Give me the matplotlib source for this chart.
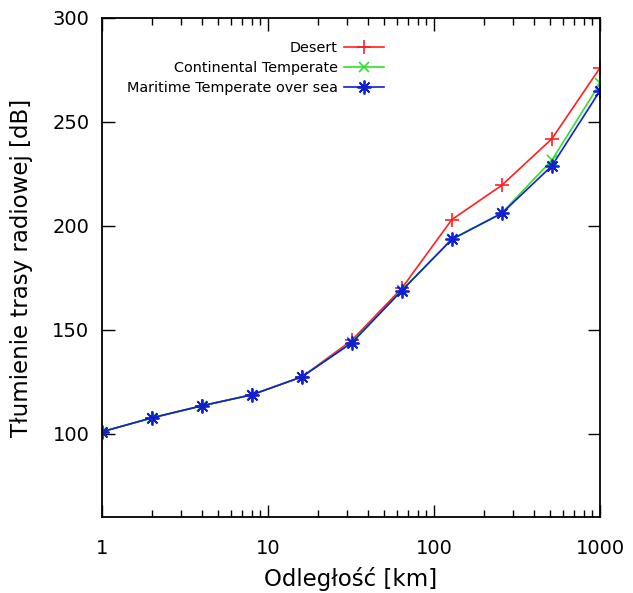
import numpy as np
import matplotlib.pyplot as plt
from matplotlib.ticker import FixedLocator, LogLocator, NullFormatter

dist_km = [1, 2, 4, 8, 16, 32, 64, 128, 256, 512, 1000]
desert = [101.0, 107.7, 113.5, 118.8, 127.4, 145.0, 170.0, 203.0, 219.5, 241.8, 276.0]
continental = [101.0, 107.7, 113.5, 118.8, 127.4, 144.0, 169.0, 193.6, 206.2, 231.5, 268.5]
maritime = [101.0, 107.7, 113.5, 118.8, 127.4, 143.8, 168.9, 193.5, 206.0, 228.8, 265.0]

fig = plt.figure(figsize=(6.33, 5.93), dpi=100)
ax = fig.add_axes([0.161, 0.128, 0.787, 0.842])

ast = (8, 2, 0)  # gnuplot-style asterisk (+ and x)
ax.plot(dist_km, desert, color='#ff2020', lw=1.2, marker='+', ms=10, mew=1.2,
        label='Desert')
ax.plot(dist_km, continental, color='#30e030', lw=1.2, marker='x', ms=7, mew=1.2,
        label='Continental Temperate')
ax.plot(dist_km, maritime, color='#1020d0', lw=1.2, marker=ast, ms=10, mew=1.3,
        label='Maritime Temperate over sea')

ax.set_xscale('log')
ax.set_xlim(1, 1000)
ax.set_ylim(60, 300)
ax.xaxis.set_major_locator(FixedLocator([1, 10, 100, 1000]))
ax.set_xticklabels(['1', '10', '100', '1000'])
ax.xaxis.set_minor_locator(LogLocator(base=10, subs=np.arange(2, 10)))
ax.xaxis.set_minor_formatter(NullFormatter())
ax.set_yticks([100, 150, 200, 250, 300])

ax.tick_params(which='both', direction='in', top=True, right=True,
               labelsize=14, width=1.0)
ax.tick_params(which='major', length=9)
ax.tick_params(which='minor', length=5)
ax.tick_params(axis='y', pad=9)
ax.tick_params(axis='x', pad=16)
for s in ax.spines.values():
    s.set_linewidth(1.3)

ax.set_xlabel('Odległość [km]', fontsize=16.5, labelpad=6)
ax.set_ylabel('Tłumienie trasy radiowej [dB]', fontsize=16.5, labelpad=14)

ax.legend(loc='upper right', bbox_to_anchor=(0.578, 0.965), frameon=False,
          markerfirst=False, fontsize=10.4, handlelength=2.8, handletextpad=0.4,
          labelspacing=0.42, borderaxespad=0)

fig.savefig('out.png', dpi=100)
